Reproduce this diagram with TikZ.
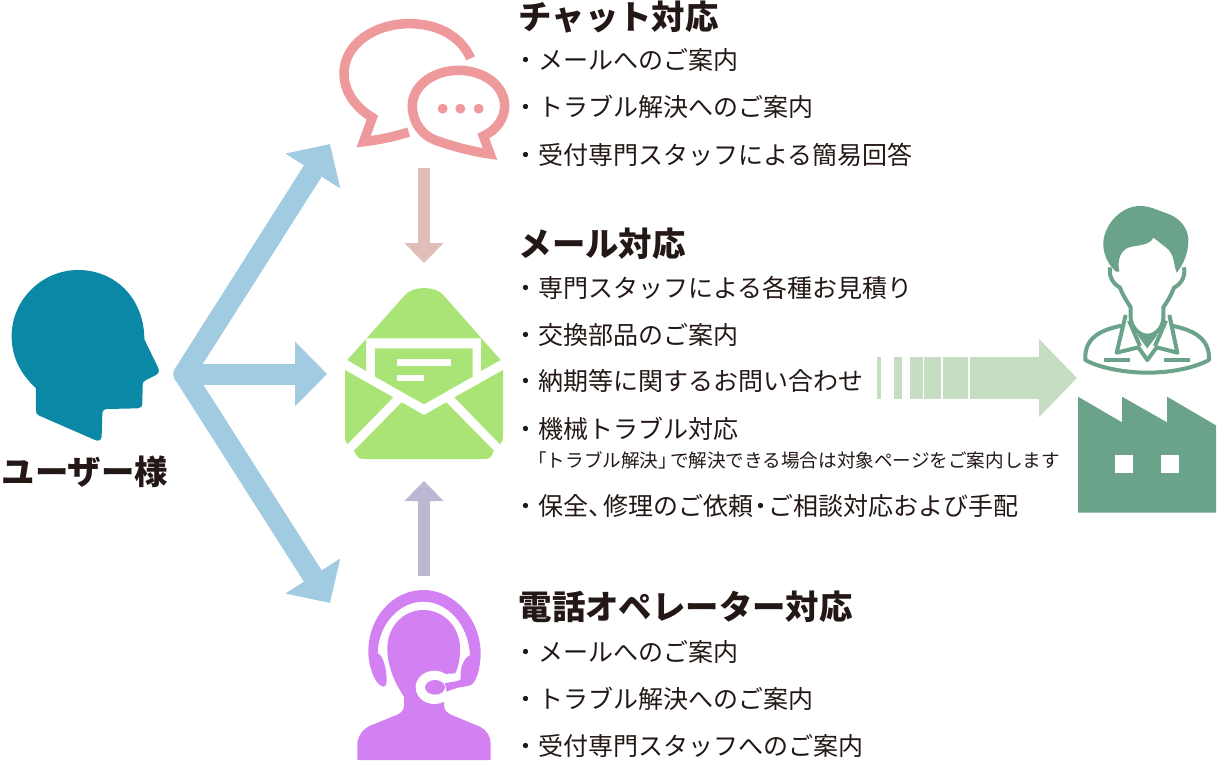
\documentclass[tikz,border=0pt]{standalone}
\usepackage{fontspec}
\usetikzlibrary{arrows.meta}
\newfontfamily\cjk[BoldFont={Noto Sans CJK JP Black}]{Noto Sans CJK JP}
\definecolor{inkc}{HTML}{231815}
\definecolor{headc}{HTML}{0A88A6}
\definecolor{flowc}{HTML}{A0CBE0}
\definecolor{chatc}{HTML}{EE9A9C}
\definecolor{mailc}{HTML}{ABE476}
\definecolor{callc}{HTML}{D380F2}
\definecolor{staffc}{HTML}{6AA389}
\definecolor{downc}{HTML}{DFBDB9}
\definecolor{upc}{HTML}{BDB6D3}
\definecolor{bandc}{HTML}{C7DDC3}
\tikzset{
  iconscope/.style={shift={#1},x=0.33333pt,y=-0.33333pt},
  heading/.style={anchor=west,inner sep=0pt,text=inkc,font=\cjk\bfseries\fontsize{33.4}{35}\selectfont},
  entry/.style={anchor=west,inner sep=0pt,text=inkc,font=\cjk\fontsize{25}{27}\selectfont},
  note/.style={anchor=west,inner sep=0pt,text=inkc,font=\cjk\fontsize{18.6}{20}\selectfont},
  flowarrow/.style={draw=flowc,line width=21pt,line cap=round,-{Triangle[length=32pt,width=63pt]}},
  smallarrow/.style={line width=12pt,-{Triangle[length=20pt,width=38pt]}},
  bigarrow/.style={draw=bandc,line width=42pt,-{Triangle[length=38pt,width=76pt]}},
  chatline/.style={draw=chatc,line width=9.5pt,miter limit=10},
  staffline/.style={draw=staffc,line width=4pt,line join=round,fill=none},
}
\begin{document}
\begin{tikzpicture}[x=1pt,y=-1pt]
\useasboundingbox (0,0) rectangle (1232,764);

% connector anchors
\coordinate (hub) at (184,374);
\coordinate (toChat) at (330,144);
\coordinate (toMail) at (327,374);
\coordinate (toCall) at (330,603);
\coordinate (chatFoot) at (424,168);
\coordinate (mailTop) at (424,263);
\coordinate (callTop) at (424,576);
\coordinate (mailFoot) at (424,481);
\coordinate (bandStart) at (970,378);
\coordinate (bandTip) at (1077,378);

% arrows fanning out from the user
\draw[flowarrow] (hub) -- (toChat);
\draw[flowarrow] (hub) -- (toCall);
\draw[flowarrow] (hub) -- (toMail);

% arrows into the mail icon
\draw[smallarrow,draw=downc] (chatFoot) -- (mailTop);
\draw[smallarrow,draw=upc] (callTop) -- (mailFoot);

% striped band leading to the staff
\foreach \a/\b in {877/881,894/902,910/923,924/941,943/968}
  \fill[bandc] (\a,357) rectangle (\b,399);
\draw[bigarrow] (bandStart) -- (bandTip);

% user head
\begin{scope}[iconscope={(0,260)}]
\fill[headc] (108,385) .. controls (60,340) and (35,290) .. (35,228)
  .. controls (35,120) and (125,30) .. (235,30)
  .. controls (345,30) and (433,115) .. (433,238)
  -- (474,322) .. controls (480,335) and (475,342) .. (468,345)
  -- (438,360) .. controls (430,364) and (428,368) .. (428,375)
  -- (427,430) .. controls (427,440) and (422,445) .. (413,445)
  -- (322,447) .. controls (312,447) and (307,452) .. (307,462)
  -- (305,528) .. controls (305,540) and (296,545) .. (285,540)
  -- (118,467) .. controls (110,464) and (108,460) .. (108,450) -- cycle;
\end{scope}

% chat bubbles
\begin{scope}[iconscope={(320,0)}]
\draw[chatline] (452,175) .. controls (420,105) and (350,71) .. (268,71)
  .. controls (160,71) and (72,135) .. (72,220)
  .. controls (72,275) and (105,320) .. (157,353)
  -- (131,425) .. controls (175,420) and (225,410) .. (266,396);
\draw[chatline] (277,318) .. controls (277,257) and (340,211) .. (416,211)
  .. controls (492,211) and (554,257) .. (554,318)
  .. controls (554,355) and (530,390) .. (490,408)
  -- (510,462) .. controls (460,455) and (400,440) .. (345,420)
  .. controls (305,405) and (277,365) .. (277,318) -- cycle;
\foreach \x in {368,421,476}
  \fill[chatc] (\x,326) circle[x radius=15,y radius=15];
\end{scope}

% envelope
\begin{scope}[iconscope={(330,270)},mailc]
\fill (52,270) -- (225,75) .. controls (250,47) and (315,47) .. (340,75) -- (512,270)
  -- (453,303) -- (453,205) -- (108,205) -- (108,303) -- cycle;
\fill (135,235) -- (428,235) -- (428,320) -- (282,403) -- (135,320) -- cycle;
\fill[white] (201,266) rectangle (363,288);
\fill[white] (201,314) rectangle (281,334);
\fill (45,300) -- (190,382) -- (52,523) .. controls (45,510) .. (45,490) -- cycle;
\fill (519,300) -- (373,382) -- (510,523) .. controls (519,510) .. (519,490) -- cycle;
\fill (215,397) -- (282,435) -- (349,397) -- (492,542)
  .. controls (480,567) .. (455,567) -- (110,567) .. controls (85,567) .. (72,542) -- cycle;
\end{scope}

% operator with headset
\begin{scope}[iconscope={(340,580)},callc]
\fill (52,540) -- (52,490) .. controls (55,465) and (70,445) .. (95,435)
  -- (170,405) .. controls (185,398) and (192,390) .. (192,375) -- (192,350)
  .. controls (165,310) and (142,260) .. (142,205)
  .. controls (142,140) and (190,90) .. (250,90)
  .. controls (310,90) and (360,140) .. (360,205)
  .. controls (360,235) and (355,265) .. (345,280) -- (310,282) -- (312,345) -- (312,375)
  .. controls (312,390) and (320,398) .. (335,405) -- (420,440)
  .. controls (440,450) and (452,470) .. (452,490) -- (452,540) -- cycle;
\fill[white] (283,322) circle[x radius=56,y radius=50];
\fill (130,320) .. controls (105,315) and (85,260) .. (85,215)
  .. controls (85,110) and (160,30) .. (250,30)
  .. controls (345,30) and (422,120) .. (422,220)
  .. controls (422,260) and (410,315) .. (385,318)
  .. controls (370,320) and (350,322) .. (320,335)
  -- (315,310) .. controls (335,305) and (355,305) .. (362,298)
  .. controls (360,270) and (365,240) .. (390,225)
  .. controls (385,130) and (320,65) .. (250,65)
  .. controls (180,65) and (115,130) .. (113,220)
  .. controls (130,225) and (140,270) .. (140,300)
  .. controls (140,315) and (135,320) .. (130,320) -- cycle;
\fill (285,322) circle[x radius=30,y radius=22];
\end{scope}

% staff member and factory
\begin{scope}[iconscope={(1060,190)}]
\fill[staffc] (168,245) .. controls (140,220) and (128,185) .. (130,155)
  .. controls (135,100) and (185,48) .. (240,48)
  .. controls (270,48) and (290,60) .. (320,70)
  .. controls (365,85) and (385,120) .. (385,150)
  .. controls (385,190) and (370,225) .. (350,248)
  .. controls (340,225) and (345,190) .. (315,170)
  -- (280,143) .. controls (270,165) and (240,165) .. (215,170)
  .. controls (185,175) and (170,205) .. (178,245) -- cycle;
\draw[staffline] (150,232) .. controls (145,265) and (165,285) .. (180,293)
  .. controls (190,320) and (205,340) .. (212,352) -- (212,385)
  .. controls (215,415) and (240,437) .. (262,437)
  .. controls (285,437) and (308,415) .. (310,385) -- (310,352)
  .. controls (318,340) and (332,320) .. (342,293)
  .. controls (358,285) and (378,265) .. (372,232);
\draw[staffline] (197,375) -- (170,488) -- (235,472) -- (262,510) -- (290,472) -- (352,488) -- (328,375);
\draw[staffline] (207,392) -- (240,468);
\draw[staffline] (318,392) -- (285,468);
\fill[staffc] (232,435) -- (292,435) -- (262,475) -- cycle;
\draw[staffline] (185,407) .. controls (120,420) and (72,445) .. (76,510)
  .. controls (120,535) and (200,548) .. (262,548)
  .. controls (330,548) and (400,535) .. (447,510)
  .. controls (450,445) and (400,420) .. (335,407);
\fill[staffc] (133,505) rectangle (210,517);
\fill[staffc] (313,505) rectangle (390,517);
\fill[staffc] (54,620) -- (186,697) -- (186,620) -- (321,697) -- (321,620) -- (468,706)
  -- (468,968) -- (54,968) -- cycle;
\fill[white] (165,795) rectangle (220,850);
\fill[white] (303,795) rectangle (358,850);
\end{scope}

% labels
\node[heading] (user) at (1.5,472) {ユーザー様};

\node[heading] (chatT) at (518.5,17) {チャット対応};
\node[entry] (c1) at (513,60) {・メールへのご案内};
\node[entry] (c2) at (513,107) {・トラブル解決へのご案内};
\node[entry] (c3) at (513,155) {・受付専門スタッフによる簡易回答};

\node[heading] (mailT) at (518.5,244) {メール対応};
\node[entry] (m1) at (513,288) {・専門スタッフによる各種お見積り};
\node[entry] (m2) at (513,335) {・交換部品のご案内};
\node[entry] (m3) at (513,381) {・納期等に関するお問い合わせ};
\node[entry] (m4) at (513,429) {・機械トラブル対応};
\node[note] (m4n) at (528,460) {「トラブル解決」\kern-7pt で解決できる場合は対象ページをご案内します};
\node[entry] (m5) at (513,506) {・保全、\kern-10pt 修理のご依頼\kern-5pt ・\kern-5pt ご相談対応および手配};

\node[heading] (callT) at (518.5,607) {電話オペレーター対応};
\node[entry] (t1) at (513,652) {・メールへのご案内};
\node[entry] (t2) at (513,699) {・トラブル解決へのご案内};
\node[entry] (t3) at (513,746) {・受付専門スタッフへのご案内};
\end{tikzpicture}
\end{document}
